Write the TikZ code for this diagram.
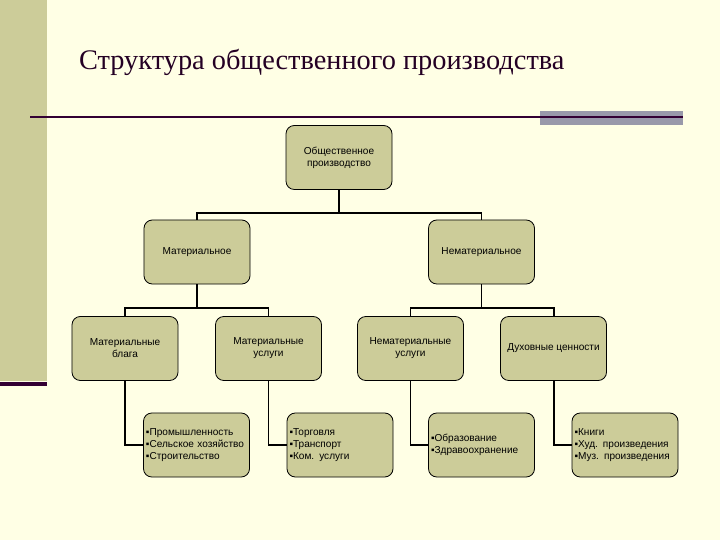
\documentclass[tikz,border=0pt]{standalone}
\usepackage{fontspec}
\setmainfont{Liberation Sans}
\newfontfamily\titlefont{Liberation Serif}
\usetikzlibrary{positioning}
\definecolor{slidebg}{RGB}{255,255,229}
\definecolor{khaki}{RGB}{204,204,153}
\definecolor{darkplum}{RGB}{51,0,51}
\definecolor{bargrey}{RGB}{153,153,170}

\begin{document}
\begin{tikzpicture}[x=0.03cm,y=-0.03cm,
  box/.style={draw,line width=0.7pt,fill=khaki,rounded corners=0.25cm,minimum width=3.18cm,minimum height=1.92cm,align=center,font=\fontsize{8.6}{10.2}\selectfont},
  listbox/.style={box,align=left,text width=3.03cm,inner xsep=0.075cm},
  link/.style={line width=1.7pt}]
% slide background
\fill[slidebg] (0,0) rectangle (720,540);
\useasboundingbox (0,0) rectangle (720,540);
\fill[khaki] (0,0) rectangle (47,381);
\fill[darkplum] (0,382) rectangle (47,386);
\fill[bargrey] (540,111) rectangle (683,125);
\draw[line width=2.2pt,darkplum] (30,117) -- (683,117);
\node[font=\titlefont\fontsize{24.2}{27}\selectfont,text=darkplum!70!black,anchor=base west] (titel) at (75,70) {Структура общественного производства};
% tree
\node[box] (obsh) at (339,157.5) {Общественное\\производство};
\node[box] (mat) at (197,252) {Материальное};
\node[box] (nemat) at (481.5,252) {Нематериальное};
\node[box] (blaga) at (125,348.5) {Материальные\\блага};
\node[box] (musl) at (268.5,348.5) {Материальные\\услуги};
\node[box] (nusl) at (410.5,348.5) {Нематериальные\\услуги};
\node[box] (duh) at (553.5,348.5) {Духовные ценности};
\node[listbox] (prom) at (196.5,445) {▪Промышленность\\▪Сельское хозяйство\\▪Строительство};
\node[listbox] (torg) at (340,445) {▪Торговля\\▪Транспорт\\▪Ком. услуги};
\node[listbox] (obraz) at (481.5,445) {▪Образование\\▪Здравоохранение};
\node[listbox] (knigi) at (625,445) {▪Книги\\▪Худ. произведения\\▪Муз. произведения};
\draw[link] (obsh.south) -- ++(0,23) -| (mat.north);
\draw[link] (obsh.south) -- ++(0,23) -| (nemat.north);
\draw[link] (mat.south) -- ++(0,24) -| (blaga.north);
\draw[link] (mat.south) -- ++(0,24) -| (musl.north);
\draw[link] (nemat.south) -- ++(0,24) -| (nusl.north);
\draw[link] (nemat.south) -- ++(0,24) -| (duh.north);
\draw[link] (blaga.south) |- (prom.west);
\draw[link] (musl.south) |- (torg.west);
\draw[link] (nusl.south) |- (obraz.west);
\draw[link] (duh.south) |- (knigi.west);
\end{tikzpicture}
\end{document}
